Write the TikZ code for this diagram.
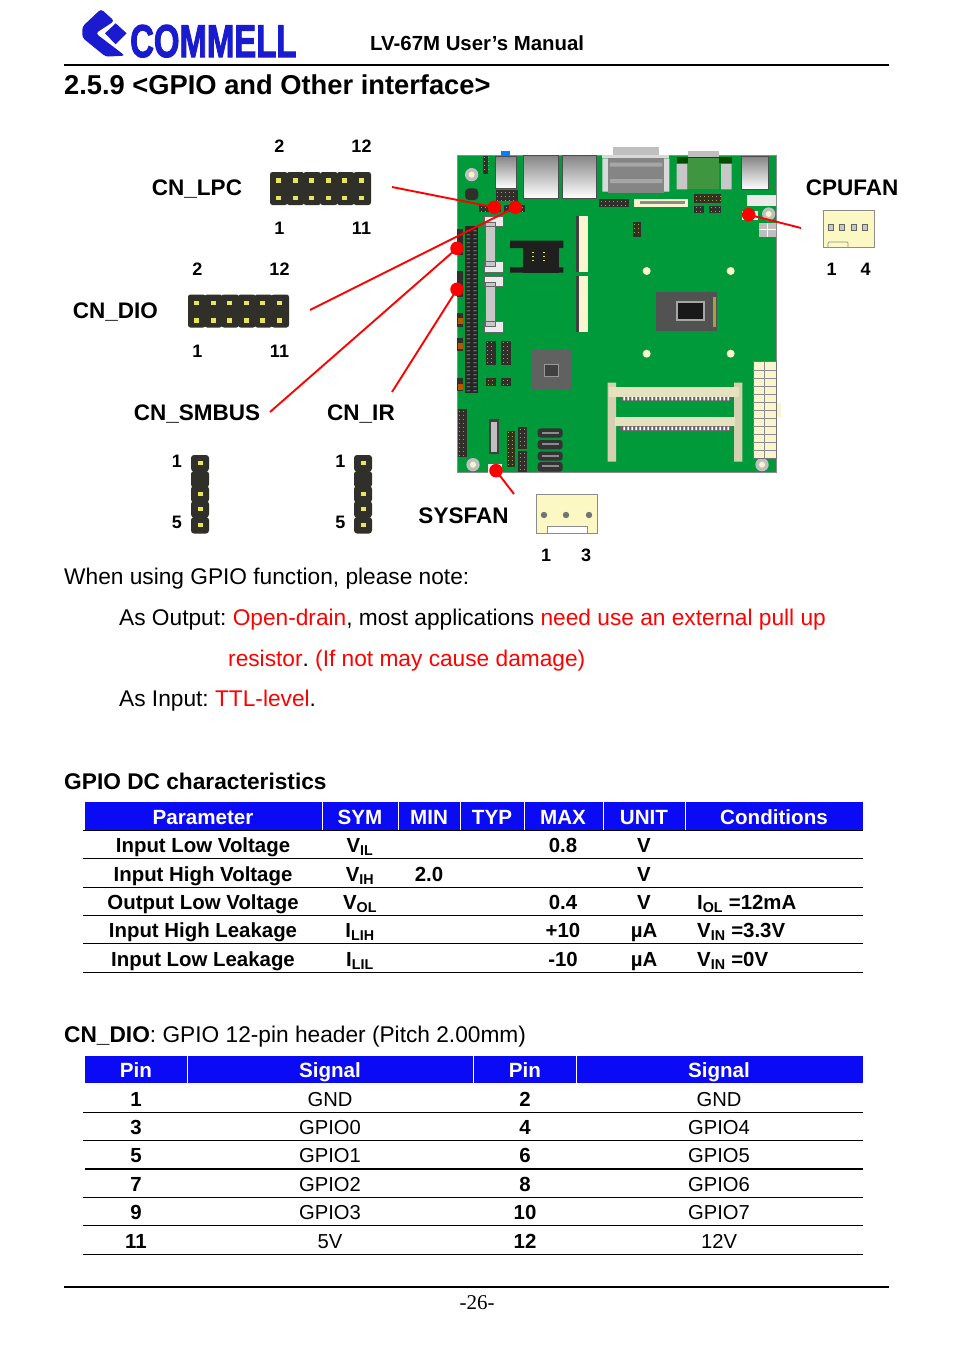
\documentclass[tikz,border=0pt]{standalone}
\usepackage{fontspec}
\usepackage{graphicx}
\setmainfont{Liberation Sans}
\newfontfamily\pagefont{Liberation Serif}
\newfontfamily\logofont[BoldFeatures={FakeBold=2.5}]{Liberation Sans}
\usepackage{tikz}
\usetikzlibrary{calc}
\usetikzlibrary{positioning}
\definecolor{barblue}{HTML}{0A0AF5}
\definecolor{logoblue}{HTML}{1A1ACF}
\definecolor{pcbgreen}{HTML}{009A3A}
\definecolor{fancream}{HTML}{FBF8C4}
\definecolor{slotcream}{HTML}{FAF5CF}
\definecolor{pindark}{HTML}{302F2A}
\definecolor{pinyellow}{HTML}{E6E65A}
\tikzset{
  txt/.style={inner sep=0pt, anchor=base},
  txtl/.style={inner sep=0pt, anchor=base west},
  title/.style={txtl, font=\fontsize{27.3}{30}\selectfont\bfseries},
  body/.style={txtl, font=\fontsize{22.7}{26}\selectfont},
  bodyb/.style={txtl, font=\fontsize{22.7}{26}\selectfont\bfseries},
  conn/.style={txt, font=\fontsize{22.5}{26}\selectfont\bfseries},
  num/.style={txt, font=\fontsize{18}{20}\selectfont\bfseries},
  hcell/.style={txt, text=white, font=\fontsize{20.6}{24}\selectfont\bfseries},
  cell/.style={txt, font=\fontsize{20.4}{24}\selectfont\bfseries},
  cellr/.style={txt, font=\fontsize{20.2}{24}\selectfont},
  celll/.style={cell, anchor=base west},
  leader/.style={red, line width=1.9pt},
  reddot/.style={circle, fill=red, inner sep=0pt, minimum size=13.5pt},
  rule/.style={black, line width=1pt},
  headrule/.style={black, line width=1.3pt},
  port/.style={top color=black!48, bottom color=white, draw=black!70, line width=0.5pt},
}
\newcommand{\brdhdr}[4]{%
  \fill[pindark] (#1,#2) rectangle (#3,#4);
  \pgfmathsetmacro{\hxa}{#1+6}\pgfmathsetmacro{\hxb}{#1+18}\pgfmathsetmacro{\hxc}{#3-2}
  \pgfmathsetmacro{\hya}{#2+6}\pgfmathsetmacro{\hyb}{#2+18}\pgfmathsetmacro{\hyc}{#4-2}
  \foreach \hx in {\hxa,\hxb,...,\hxc}
    \foreach \hy in {\hya,\hyb,...,\hyc}
      \fill[pinyellow!70!black] (\hx-1.5,\hy-1.5) rectangle (\hx+1.5,\hy+1.5);
}
\begin{document}
\frenchspacing
\begin{tikzpicture}[x=1pt, y=-1pt]
  \useasboundingbox (0,0) rectangle (954,1354);

  % page head
  \begin{scope}[shift={(75,5)}, scale=1/3]
    \fill[logoblue, rounded corners=3pt] (22,65) -- (78,12) -- (118,48) -- (62,85)
      -- (150,152) -- (92,155) -- (22,98) -- cycle;
    \fill[logoblue] (90,85) -- (122,55) -- (155,85) -- (122,118) -- cycle;
  \end{scope}
  \node[inner sep=0pt, anchor=base west, text=logoblue,
    font=\logofont\fontsize{46}{46}\selectfont\bfseries] (logo) at (130,57)
    {\scalebox{.715}[1]{COMMELL}};
  \node[txtl, font=\fontsize{20.4}{24}\selectfont\bfseries] (manual) at (370,50.5)
    {LV-67M User’s Manual};
  \coordinate (headl) at (64,65);
  \coordinate (headr) at (889,65);
  \draw[headrule] (headl) -- (headr);
  \node[title] (sect) at (64,94) {2.5.9 <GPIO and Other interface>};

  % board
  \begin{scope}[shift={(440,140)}, scale=1/3]
    \fill[pcbgreen] (52,45) rectangle (1008,998);
    \draw[black!45, line width=0.4pt] (52,45) rectangle (1008,998);
    % rear ports
    \fill[blue!50!cyan] (182,33) rectangle (210,47);
    \draw[port] (165,48) rectangle (230,145);
    \draw[port] (250,45) rectangle (356,175);
    \draw[port] (367,45) rectangle (470,175);
    \draw[port] (905,48) rectangle (985,148);
    \fill[black!25] (518,22) rectangle (657,45);
    \fill[black!15] (487,45) rectangle (688,55);
    \fill[black!15] (487,55) rectangle (505,155) (672,55) rectangle (688,155);
    \fill[black!48] (505,55) rectangle (672,160);
    \fill[black!35] (510,68) rectangle (667,80) (510,117) rectangle (667,129);
    \fill[black!25] (745,32) rectangle (838,50);
    \fill[green!30!black] (710,50) rectangle (875,70);
    \fill[black!22] (710,72) rectangle (742,148) (843,72) rectangle (875,148);
    \fill[green!45!black!75!white] (745,55) rectangle (838,148);
    % small parts near the rear edge
    \fill[pindark, rounded corners=4pt] (75,145) rectangle (115,180);
    \brdhdr{128}{47}{143}{102}
    \brdhdr{167}{150}{233}{182}
    \brdhdr{118}{195}{183}{217}
    \brdhdr{192}{195}{256}{217}
    \brdhdr{477}{178}{568}{200}
    \brdhdr{763}{163}{843}{188}
    \brdhdr{763}{197}{792}{218}
    \brdhdr{808}{197}{843}{218}
    \brdhdr{578}{247}{604}{290}
    \fill[slotcream] (583,178) rectangle (743,202);
    \fill[black!45] (600,183) rectangle (735,192);
    \fill[black!8] (921,165) rectangle (1008,198);
    \fill[black!8] (905,212) rectangle (955,240);
    \fill[black!25] (958,248) rectangle (1008,290);
    \draw[white, line width=0.5pt] (983,248) -- (983,290) (958,269) -- (1008,269);
    % mounting holes
    \foreach \hx/\hy in {95/104, 986/222, 99/974, 966/974} {
      \fill[black!25] (\hx,\hy) circle (20);
      \fill[slotcream] (\hx,\hy) circle (9);
    }
    \foreach \hx/\hy in {620/393, 872/393, 620/641, 872/641}
      \fill[slotcream] (\hx,\hy) circle (12);
    % expansion slot and left edge headers
    \fill[black!85] (75,258) rectangle (115,760);
    \foreach \hy in {270,282,...,750}
      \fill[black!60] (80,\hy) rectangle (90,\hy+4) (100,\hy) rectangle (110,\hy+4);
    \foreach \hy/\hz in {268/345, 393/470, 520/560, 595/632, 715/752}
      \fill[pindark] (52,\hy) rectangle (70,\hz);
    \foreach \hy in {535, 610, 732}
      \fill[orange!70!black] (55,\hy) rectangle (68,\hy+18);
    % sata style sockets
    \foreach \hy in {228, 408} {
      \fill[black!8] (133,\hy) rectangle (190,\hy+32) (133,\hy+137) rectangle (190,\hy+169);
      \fill[black!22] (135,\hy+20) rectangle (165,\hy+150);
      \draw[black!60, line width=0.5pt] (135,\hy+20) rectangle (165,\hy+150);
      \draw[black!60, line width=0.5pt] (133,\hy) rectangle (190,\hy+32)
        (133,\hy+137) rectangle (190,\hy+169);
    }
    % card socket
    \fill[black!88] (210,302) rectangle (370,324) (210,382) rectangle (370,398);
    \fill[black!88] (248,302) rectangle (358,398);
    \foreach \hx in {278,312}
      \foreach \hy in {337,349,361}
        \fill[pinyellow] (\hx-3,\hy-2) rectangle (\hx+3,\hy+2);
    % mini card slots
    \foreach \hy/\hz in {228/397, 408/577} {
      \fill[slotcream] (407,\hy) rectangle (445,\hz);
      \fill[black!75] (407,\hy) rectangle (418,\hz);
    }
    % cpu and chipset
    \fill[black!68] (648,455) rectangle (830,572);
    \fill[black!35] (708,484) rectangle (794,542);
    \fill[black!90] (713,489) rectangle (789,537);
    \fill[yellow!60!black] (820,470) rectangle (828,560);
    \fill[black!62] (277,630) rectangle (392,746);
    \fill[black!75] (312,672) rectangle (354,708);
    \draw[black!40, line width=0.4pt] (312,672) rectangle (354,708);
    % lower headers
    \brdhdr{137}{602}{167}{675}
    \brdhdr{183}{602}{212}{675}
    \brdhdr{139}{714}{168}{737}
    \brdhdr{184}{714}{213}{737}
    \brdhdr{53}{808}{82}{950}
    \brdhdr{200}{872}{224}{982}
    \brdhdr{235}{862}{262}{926}
    \brdhdr{235}{933}{262}{996}
    \fill[black!75] (148,838) rectangle (176,942);
    \fill[black!25] (152,845) rectangle (172,935);
    \foreach \hy/\hz in {865/893, 900/928, 935/962, 966/995} {
      \fill[black!80, rounded corners=3pt] (293,\hy) rectangle (368,\hz);
      \fill[black!45] (305,\hy+10) rectangle (358,\hy+16);
    }
    \fill[black!8] (145,972) rectangle (185,1000);
    % memory socket
    \fill[slotcream!85!black] (503,728) rectangle (528,965) (882,728) rectangle (907,965);
    \fill[pcbgreen] (533,782) rectangle (875,830);
    \fill[slotcream!92!black] (508,740) rectangle (898,770);
    \fill[slotcream!92!black] (525,830) rectangle (885,858);
    \fill[black!60] (545,770) rectangle (872,782);
    \fill[black!60] (540,858) rectangle (875,872);
    \foreach \hx in {550,562,...,870}
      \fill[white] (\hx,771) rectangle (\hx+5,781) (\hx,860) rectangle (\hx+5,870);
    % power connector
    \fill[slotcream] (1008,790) rectangle (1022,832);
    \fill[slotcream] (940,665) rectangle (1008,955);
    \draw[black!55, line width=0.5pt] (940,665) rectangle (1008,955);
    \draw[black!45, line width=0.4pt] (974,665) -- (974,955);
    \foreach \hy in {690,714,...,930}
      \draw[black!45, line width=0.4pt] (940,\hy) -- (1008,\hy);
    % marks
    \node[reddot] (lpcdot) at (163,202) {};
    \node[reddot] (diodot) at (226,202) {};
    \node[reddot] (smbdot) at (51,325) {};
    \node[reddot] (irdot) at (51,448) {};
    \node[reddot] (sysdot) at (168,992) {};
    \node[reddot] (cpudot) at (926,224) {};
  \end{scope}

  % leaders
  \coordinate (lpcend) at (392,187);
  \coordinate (dioend) at (310,310);
  \coordinate (smbend) at (270,412);
  \coordinate (irend) at (392,392);
  \coordinate (sysend) at (514,494);
  \coordinate (cpuend) at (801,228);
  \draw[leader] (lpcend) -- (lpcdot.center);
  \draw[leader] (dioend) -- (diodot.center);
  \draw[leader] (smbend) -- (smbdot.center);
  \draw[leader] (irend) -- (irdot.center);
  \draw[leader] (sysend) -- (sysdot.center);
  \draw[leader] (cpuend) -- (cpudot.center);

  % 12 pin headers
  \foreach \ox/\oy in {270/172, 188/294.5} {
    \foreach \i in {0,...,5} {
      \fill[pindark, rounded corners=2.5pt] (\ox+\i*16.7,\oy) rectangle ++(17.5,33);
      \fill[pinyellow] (\ox+6+\i*16.5,\oy+6) rectangle ++(5,4.5);
      \fill[pinyellow] (\ox+6+\i*16.5,\oy+23.5) rectangle ++(5,4.5);
    }
  }
  % 5 pin headers
  \foreach \ox in {191, 354} {
    \foreach \py in {463,479,494,509,525} {
      \fill[pindark, rounded corners=3pt] (\ox,\py-8) rectangle ++(18,16.5);
    }
    \foreach \py in {463,494,509,525} {
      \fill[pinyellow] (\ox+6.5,\py-2) rectangle ++(5,4);
    }
  }
  % fan connectors
  \fill[fancream] (536,494) rectangle (597,533);
  \draw[black!45, line width=0.5pt] (536,494) rectangle (597,533);
  \draw[black!45, fill=white, line width=0.5pt] (547,526) rectangle (587,533);
  \foreach \px in {544,566,589}
    \fill[black!55] (\px,515) circle (3.2);
  \fill[fancream] (823,210) rectangle (874,247);
  \draw[black!45, line width=0.8pt] (823,210) rectangle (874,247);
  \draw[black!45, line width=0.7pt, rounded corners=1pt] (828,247) -- (828,242) -- (848,242) -- (848,247);
  \foreach \px in {831,842,854,865}
    \draw[black!60, fill=black!22, line width=0.8pt] (\px-2.5,224) rectangle (\px+2.5,230);

  % connector labels
  \node[conn] (lpc) at (197,195) {CN\_LPC};
  \node[conn] (dio) at (115.5,318) {CN\_DIO};
  \node[conn] (smbus) at (197,420) {CN\_SMBUS};
  \node[conn] (ir) at (361,420) {CN\_IR};
  \node[conn] (sysfan) at (463.5,523) {SYSFAN};
  \node[conn] (cpufan) at (852,195) {CPUFAN};
  \foreach \px/\py/\lab [count=\n] in {279.5/152/2, 361.5/152/12, 279.5/234/1, 361.5/234/11,
      197.5/275/2, 279.5/275/12, 197.5/357/1, 279.5/357/11,
      177/467/1, 177/528/5, 340.5/467/1, 340.5/528/5,
      546/561/1, 586/561/3, 831.5/275/1, 865.5/275/4}
    \node[num] (pinno\n) at (\px,\py) {\lab};

  % notes
  \node[body] (note) at (64,584.5) {When using GPIO function, please note:};
  \node[body] (out) at (119,625.5) {As Output: \textcolor{red}{Open-drain}, most applications \textcolor{red}{need use an external pull up}};
  \node[body, text=red] (res) at (228,666) {resistor\textcolor{black}{.} (If not may cause damage)};
  \node[body] (inp) at (119,706) {As Input: \textcolor{red}{TTL-level}.};

  % dc table
  \node[bodyb] (dchead) at (64,789) {GPIO DC characteristics};
  \fill[barblue] (85,802) rectangle (863,830);
  \foreach \px in {322,398,460,524,603,685}
    \draw[white, line width=0.8pt] (\px,802) -- (\px,830);
  \foreach \px/\lab [count=\n] in {203/Parameter, 360/SYM, 429/MIN, 492/TYP, 563/MAX, 644/UNIT, 774/Conditions}
    \node[hcell] (dccol\n) at (\px,824) {\lab};
  \foreach \py/\pa/\sy/\mi/\ma/\un/\co [count=\n] in {
      852/Input Low Voltage/V\textsubscript{IL}//0.8/V/,
      881/Input High Voltage/V\textsubscript{IH}/2.0//V/,
      909/Output Low Voltage/V\textsubscript{OL}//0.4/V/I\textsubscript{OL} =12mA,
      937/Input High Leakage/I\textsubscript{LIH}//+10/µA/V\textsubscript{IN} =3.3V,
      966/Input Low Leakage/I\textsubscript{LIL}//-10/µA/V\textsubscript{IN} =0V} {
    \node[cell] (dcpar\n) at (203,\py) {\pa};
    \node[cell] (dcsym\n) at (360,\py) {\sy};
    \node[cell] (dcmin\n) at (429,\py) {\mi};
    \node[cell] (dcmax\n) at (563,\py) {\ma};
    \node[cell] (dcunit\n) at (644,\py) {\un};
    \node[celll] (dccond\n) at (697,\py) {\co};
  }
  \foreach \py in {830,858,887,915,943,972}
    \draw[rule] (83,\py) -- (863,\py);

  % pin table
  \node[body] (diohead) at (64,1042) {\textbf{CN\_DIO}: GPIO 12-pin header (Pitch 2.00mm)};
  \fill[barblue] (85,1056) rectangle (863,1083);
  \foreach \px in {187,473,576}
    \draw[white, line width=0.8pt] (\px,1056) -- (\px,1083);
  \foreach \px/\lab [count=\n] in {136/Pin, 330/Signal, 525/Pin, 719/Signal}
    \node[hcell] (piocol\n) at (\px,1077) {\lab};
  \foreach \py/\pa/\sa/\pb/\sb [count=\n] in {
      1106/1/GND/2/GND, 1134/3/GPIO0/4/GPIO4, 1162/5/GPIO1/6/GPIO5,
      1191/7/GPIO2/8/GPIO6, 1219/9/GPIO3/10/GPIO7, 1248/11/5V/12/12V} {
    \node[cell] (pina\n) at (136,\py) {\pa};
    \node[cellr] (siga\n) at (330,\py) {\sa};
    \node[cell] (pinb\n) at (525,\py) {\pb};
    \node[cellr] (sigb\n) at (719,\py) {\sb};
  }
  \foreach \py in {1112,1140,1197,1225,1254}
    \draw[rule] (83,\py) -- (863,\py);
  \draw[black, line width=1.8pt] (85,1169) -- (863,1169);

  % page foot
  \coordinate (footl) at (64,1287);
  \coordinate (footr) at (889,1287);
  \draw[headrule] (footl) -- (footr);
  \node[txt, font=\pagefont\fontsize{21}{24}\selectfont] (page) at (477,1309) {-26-};
\end{tikzpicture}
\end{document}
